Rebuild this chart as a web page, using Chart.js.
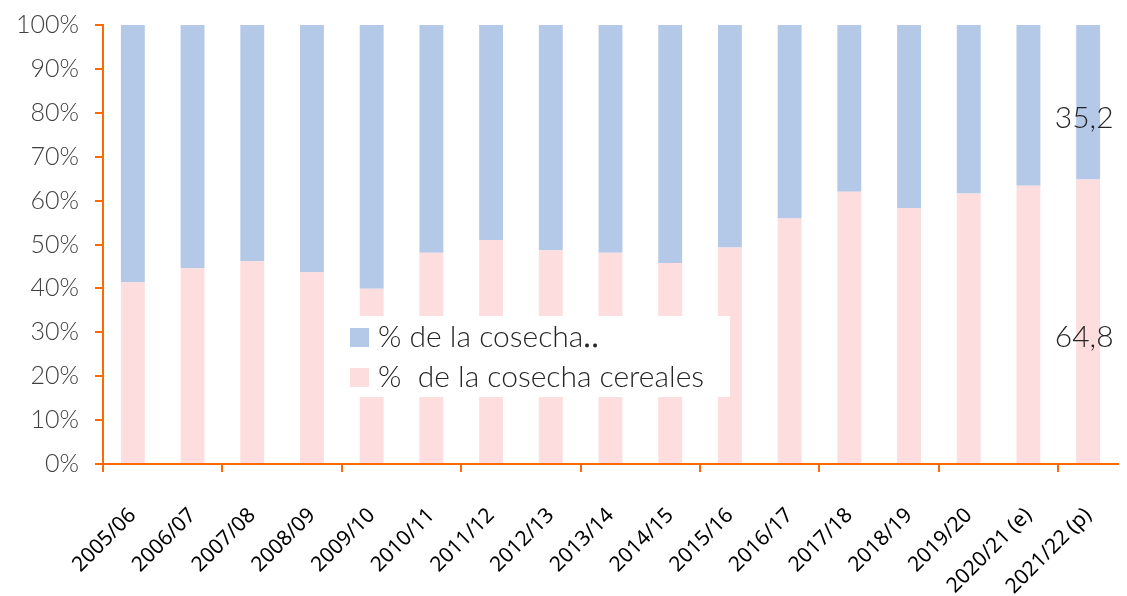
<!DOCTYPE html>
<html lang="es">

<head>
    <meta charset="UTF-8">
    <title>Cosecha</title>
    <script src="https://cdn.jsdelivr.net/npm/chart.js"></script>
    <style>
        html, body { margin: 0; padding: 0; background: #fff; }
        #caja { width: 1127px; height: 596px; }
    </style>
</head>

<body>
    <div id="caja">
        <canvas id="grafico"></canvas>
    </div>
</body>

</html>

<script>
    var campanas = ['2005/06', '2006/07', '2007/08', '2008/09', '2009/10', '2010/11', '2011/12', '2012/13',
        '2013/14', '2014/15', '2015/16', '2016/17', '2017/18', '2018/19', '2019/20', '2020/21 (e)', '2021/22 (p)'];
    var cereales = [41.4, 44.6, 46.2, 43.7, 39.9, 48.1, 51.0, 48.7, 48.1, 45.8, 49.3, 55.9, 62.0, 58.3, 61.6, 63.4, 64.8];
    var otros = [58.6, 55.4, 53.8, 56.3, 60.1, 51.9, 49.0, 51.3, 51.9, 54.2, 50.7, 44.1, 38.0, 41.7, 38.4, 36.6, 35.2];
    var nombreCereales = '%  de la cosecha cereales';
    var nombreOtros = '% de la cosecha\u2025';

    var naranja = '#FF6A00';
    var fuenteFina = 'Lato';

    // leyenda en el centro y etiquetas de la ultima barra
    var extras = {
        id: 'extras',
        afterDatasetsDraw(chart) {
            var c = chart.ctx;
            c.save();
            c.font = '300 30px ' + fuenteFina;
            c.fillStyle = '#262626';
            c.textAlign = 'center';
            c.textBaseline = 'middle';
            chart.data.datasets.forEach(function (ds, i) {
                var meta = chart.getDatasetMeta(i);
                var n = ds.data.length - 1;
                var bar = meta.data[n];
                var mitad = (bar.y + bar.base) / 2;
                c.fillText(String(ds.data[n]).replace('.', ','), bar.x - 4, mitad + 16);
            });

            // caja blanca de la leyenda
            c.fillStyle = '#fff';
            c.fillRect(342, 316, 388, 81);
            var orden = [1, 0];
            orden.forEach(function (idx, fila) {
                var ds = chart.data.datasets[idx];
                var y = 337 + fila * 40;
                c.fillStyle = ds.backgroundColor;
                c.fillRect(350, y - 9, 19, 19);
                c.fillStyle = '#262626';
                c.textAlign = 'left';
                c.fillText(ds.label, 378, y);
            });
            c.restore();
        }
    };

    new Chart(document.getElementById('grafico'), {
        type: 'bar',
        data: {
            labels: campanas,
            datasets: [{
                label: nombreCereales,
                data: cereales,
                backgroundColor: '#FDDDDD',
                barPercentage: 0.4,
                categoryPercentage: 1
            }, {
                label: nombreOtros,
                data: otros,
                backgroundColor: '#B4C8E7',
                barPercentage: 0.4,
                categoryPercentage: 1
            }]
        },
        options: {
            responsive: true,
            maintainAspectRatio: false,
            animation: false,
            layout: {
                padding: { top: 25, right: 9, left: 0, bottom: 0 }
            },
            plugins: {
                legend: { display: false },
                tooltip: { enabled: false }
            },
            scales: {
                x: {
                    stacked: true,
                    afterFit(scale) {
                        scale.height = 132;
                        scale.paddingLeft = 0;
                        scale.paddingRight = 0;
                    },
                    border: { color: naranja, width: 2 },
                    grid: {
                        offset: true,
                        drawOnChartArea: false,
                        tickLength: 8,
                        lineWidth: 2,
                        color: function (ctx) { return ctx.index % 2 === 0 ? naranja : 'rgba(0,0,0,0)'; }
                    },
                    ticks: {
                        maxRotation: 45,
                        minRotation: 45,
                        autoSkip: false,
                        padding: 31,
                        color: '#000',
                        font: { family: 'Noto Sans', size: 21 }
                    }
                },
                y: {
                    stacked: true,
                    min: 0,
                    max: 100,
                    afterFit(scale) {
                        scale.width = 103;
                        scale.paddingTop = 0;
                        scale.paddingBottom = 0;
                    },
                    border: { color: naranja, width: 2 },
                    grid: {
                        drawOnChartArea: false,
                        tickLength: 8,
                        lineWidth: 2,
                        color: naranja
                    },
                    ticks: {
                        stepSize: 10,
                        padding: 16,
                        color: '#404040',
                        font: { family: fuenteFina, size: 25, weight: '300' },
                        callback: function (v) { return v + '%'; }
                    }
                }
            }
        },
        plugins: [extras]
    });
</script>
